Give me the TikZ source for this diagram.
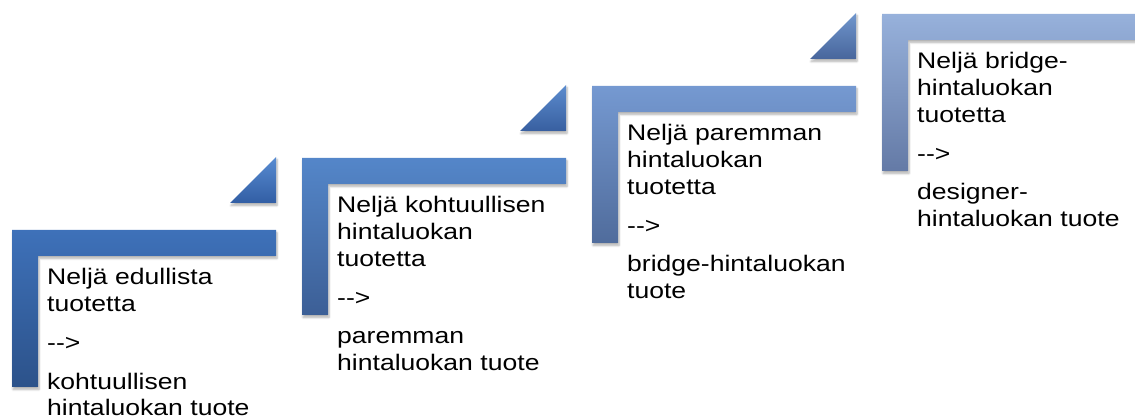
\documentclass[tikz,border=0pt]{standalone}
\usepackage{fontspec}
\setmainfont{Liberation Sans}[FakeStretch=1.18]
\usepackage{tikz}
\usetikzlibrary{shadows.blur}

% step colours, top and bottom of each shading
\definecolor{stepAtop}{RGB}{62,113,185}
\definecolor{stepAbot}{RGB}{44,82,138}
\definecolor{stepBtop}{RGB}{84,134,201}
\definecolor{stepBbot}{RGB}{60,95,150}
\definecolor{stepCtop}{RGB}{117,153,209}
\definecolor{stepCbot}{RGB}{80,108,156}
\definecolor{stepDtop}{RGB}{151,177,219}
\definecolor{stepDbot}{RGB}{100,122,166}
\definecolor{arrAtop}{RGB}{88,140,210}
\definecolor{arrAbot}{RGB}{50,94,164}
\definecolor{arrBtop}{RGB}{92,140,206}
\definecolor{arrBbot}{RGB}{56,95,160}
\definecolor{arrCtop}{RGB}{112,150,205}
\definecolor{arrCbot}{RGB}{72,102,156}

\begin{document}
\begin{tikzpicture}[x=1pt,y=-1pt,
    stepshape/.style={blur shadow={shadow xshift=1pt,shadow yshift=-2.5pt,
        shadow blur steps=6,shadow opacity=30}},
    steptext/.style={anchor=base west,inner sep=0pt,text width=230pt,align=left,
        font=\fontsize{22.5}{26.7}\selectfont}]
    \useasboundingbox (0,0) rectangle (1135,419);
    \clip (0,0) rectangle (1135,419);

    % L-shaped steps
    \foreach \i/\c in {0/A,1/B,2/C,3/D} {
        \pgfmathsetmacro{\x}{12+290*\i}
        \pgfmathsetmacro{\y}{230-72*\i}
        \path[stepshape,top color=step\c top,bottom color=step\c bot]
            (\x,\y) -- ++(264,0) -- ++(0,26) -- ++(-238,0)
            -- ++(0,131) -- ++(-26,0) -- cycle;
    }

    % small triangles between the steps
    \foreach \i/\c in {0/A,1/B,2/C} {
        \pgfmathsetmacro{\x}{276+290*\i}
        \pgfmathsetmacro{\y}{203-72*\i}
        \path[stepshape,top color=arr\c top,bottom color=arr\c bot]
            (\x,\y) -- ++(-46,0) -- ++(46,-46) -- cycle;
    }

    % Texts
    \node[steptext] (txt1) at (47,285)
        {Neljä edullista\\ tuotetta\\[12pt] -{}-{}>\\[12pt] kohtuullisen\\ hintaluokan tuote};
    \node[steptext] (txt2) at (337,213)
        {Neljä kohtuullisen\\ hintaluokan\\ tuotetta\\[12pt] -{}-{}>\\[12pt] paremman\\ hintaluokan tuote};
    \node[steptext] (txt3) at (627,141)
        {Neljä paremman\\ hintaluokan\\ tuotetta\\[12pt] -{}-{}>\\[12pt] bridge-hintaluokan\\ tuote};
    \node[steptext] (txt4) at (917,69)
        {Neljä bridge-\\ hintaluokan\\ tuotetta\\[12pt] -{}-{}>\\[12pt] designer-\\ hintaluokan tuote};
\end{tikzpicture}
\end{document}
